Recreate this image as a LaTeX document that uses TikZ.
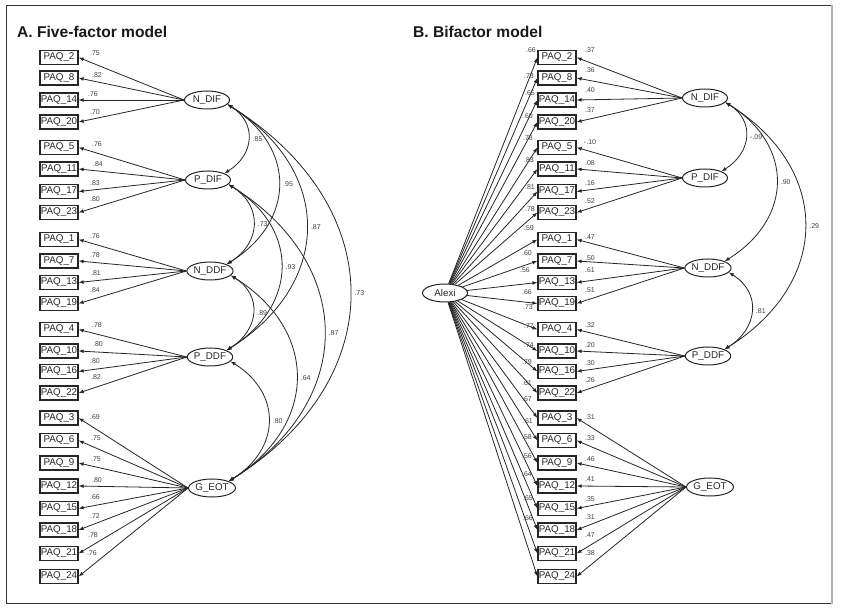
\documentclass[tikz,border=0pt]{standalone}
\usepackage{fontspec}
\setmainfont{Liberation Sans}
\usetikzlibrary{shapes.geometric,arrows.meta}
\begin{document}
\begin{tikzpicture}[x=1pt,y=-1pt,
 obs/.style={draw=black!85,line width=1.2pt,minimum width=38pt,minimum height=14pt,inner sep=0pt,font=\fontsize{9.8}{10}\selectfont,text=black!85},
 lat/.style={ellipse,draw=black!85,line width=1pt,minimum width=45pt,minimum height=18pt,inner sep=0pt,font=\fontsize{9.8}{10}\selectfont,text=black!85},
 ld/.style={inner sep=0pt,font=\fontsize{7}{8}\selectfont,text=black!75},
 reg/.style={draw=black!85,line width=0.8pt,-{Latex[length=5pt,width=3.8pt]}},
 cov/.style={draw=black!85,line width=0.8pt,{Latex[length=5pt,width=3.8pt]}-{Latex[length=5pt,width=3.8pt]},out=-32,in=32,looseness=1.3},
 ttl/.style={anchor=base west,inner sep=0pt,font=\bfseries\fontsize{15.6}{19}\selectfont,text=black!90}
]
\useasboundingbox (0,0) rectangle (841,609);
% frame
\draw[black!80,line width=1pt] (832,5.5) -- (6.5,5.5) -- (6.5,603) -- (832,603);
\draw[black!30,line width=1.5pt] (832,5) -- (832,603.5);
% titles
\node[ttl] (tA) at (17,38) {A. Five-factor model};
\node[ttl] (tB) at (413,38) {B. Bifactor model};
% ---------------- Panel A ----------------
\node[lat] (aNDIF) at (207,100) {N\_DIF};
\node[lat] (aPDIF) at (208,180) {P\_DIF};
\node[lat] (aNDDF) at (210,271) {N\_DDF};
\node[lat] (aPDDF) at (210,357) {P\_DDF};
\node[lat] (aGEOT) at (212,488) {G\_EOT};
\foreach \n/\y/\f/\lab/\lx/\ly in {
 2/57.5/aNDIF/.75/95/53, 8/78/aNDIF/.82/97/75, 14/100/aNDIF/.76/93/94, 20/122/aNDIF/.70/95/112,
 5/147.5/aPDIF/.76/97/144, 11/169/aPDIF/.84/98/164, 17/191.5/aPDIF/.83/95/183, 23/212.5/aPDIF/.80/95/199,
 1/239.5/aNDDF/.76/95/236, 7/261/aNDDF/.78/95/255, 13/282.5/aNDDF/.81/96/273, 19/303.5/aNDDF/.84/95/290,
 4/329.5/aPDDF/.78/97/325, 10/351/aPDDF/.80/98/344, 16/371.5/aPDDF/.80/95/361, 22/393/aPDDF/.82/96/377,
 3/418/aGEOT/.69/95/417, 6/440.5/aGEOT/.75/96/438, 9/463/aGEOT/.75/96/459, 12/486/aGEOT/.80/97/480,
 15/508.5/aGEOT/.66/95/497, 18/530/aGEOT/.72/95/516, 21/553.5/aGEOT/.78/93/535, 24/576.5/aGEOT/.76/92/553}{
 \node[obs] (a\n) at (59,\y) {PAQ\_\n};
 \draw[reg] (\f.west) -- (a\n.east);
 \node[ld] (al\n) at (\lx,\ly) {\lab};
}
\foreach \p/\q/\lab in {aNDIF/aPDIF/.85, aNDIF/aNDDF/.95, aNDIF/aPDDF/.87, aNDIF/aGEOT/.73,
 aPDIF/aNDDF/.73, aPDIF/aPDDF/.93, aPDIF/aGEOT/.87, aNDDF/aPDDF/.89, aNDDF/aGEOT/.64, aPDDF/aGEOT/.80}{
 \draw[cov] (\p.-12) to node[ld,midway,right=4pt] {\lab} (\q.22);
}
% ---------------- Panel B ----------------
\node[lat] (bAlexi) at (445,293) {Alexi};
\node[lat] (bNDIF) at (705,98) {N\_DIF};
\node[lat] (bPDIF) at (705,178) {P\_DIF};
\node[lat] (bNDDF) at (708,268) {N\_DDF};
\node[lat] (bPDDF) at (708,356) {P\_DDF};
\node[lat] (bGEOT) at (710,487) {G\_EOT};
\foreach \n/\y/\f/\s/\sy/\g/\gx/\gy in {
 2/57.5/bNDIF/.37/50/.66/531/50, 8/78/bNDIF/.36/70/.73/529/76, 14/100/bNDIF/.40/90/.65/530/93, 20/122/bNDIF/.37/110/.60/528/116,
 5/147.5/bPDIF/{-.10}/142/.78/528/138, 11/169/bPDIF/.08/163/.83/529/160, 17/191.5/bPDIF/.16/183/.81/530/187, 23/212.5/bPDIF/.52/201/.78/530/209,
 1/239.5/bNDDF/.47/237/.59/529/228, 7/261/bNDDF/.50/258/.60/527/253, 13/282.5/bNDDF/.61/270/.56/525/270, 19/303.5/bNDDF/.51/290/.66/527/292,
 4/329.5/bPDDF/.32/325/.73/528/307, 10/351/bPDDF/.20/345/.77/529/326, 16/371.5/bPDDF/.30/363/.74/529/345, 22/393/bPDDF/.26/380/.79/527/362,
 3/418/bGEOT/.31/417/.61/527/383, 6/440.5/bGEOT/.33/438/.67/527/399, 9/463/bGEOT/.46/459/.61/528/421, 12/486/bGEOT/.41/479/.58/527/437,
 15/508.5/bGEOT/.35/499/.56/527/456, 18/530/bGEOT/.31/517/.64/527/474, 21/553.5/bGEOT/.47/535/.65/528/498, 24/576.5/bGEOT/.38/553/.66/528/518}{
 \node[obs] (b\n) at (557,\y) {PAQ\_\n};
 \draw[reg] (\f.west) -- (b\n.east);
 \draw[reg] (bAlexi) -- (b\n.west);
 \node[ld] (bs\n) at (590,\sy) {\s};
 \node[ld] (bg\n) at (\gx,\gy) {\g};
}
\foreach \p/\q/\lab in {bNDIF/bPDIF/{-.09}, bNDIF/bNDDF/.90, bNDIF/bPDDF/.29, bNDDF/bPDDF/.81}{
 \draw[cov] (\p.-12) to node[ld,midway,right=4pt] {\lab} (\q.22);
}
\end{tikzpicture}
\end{document}
